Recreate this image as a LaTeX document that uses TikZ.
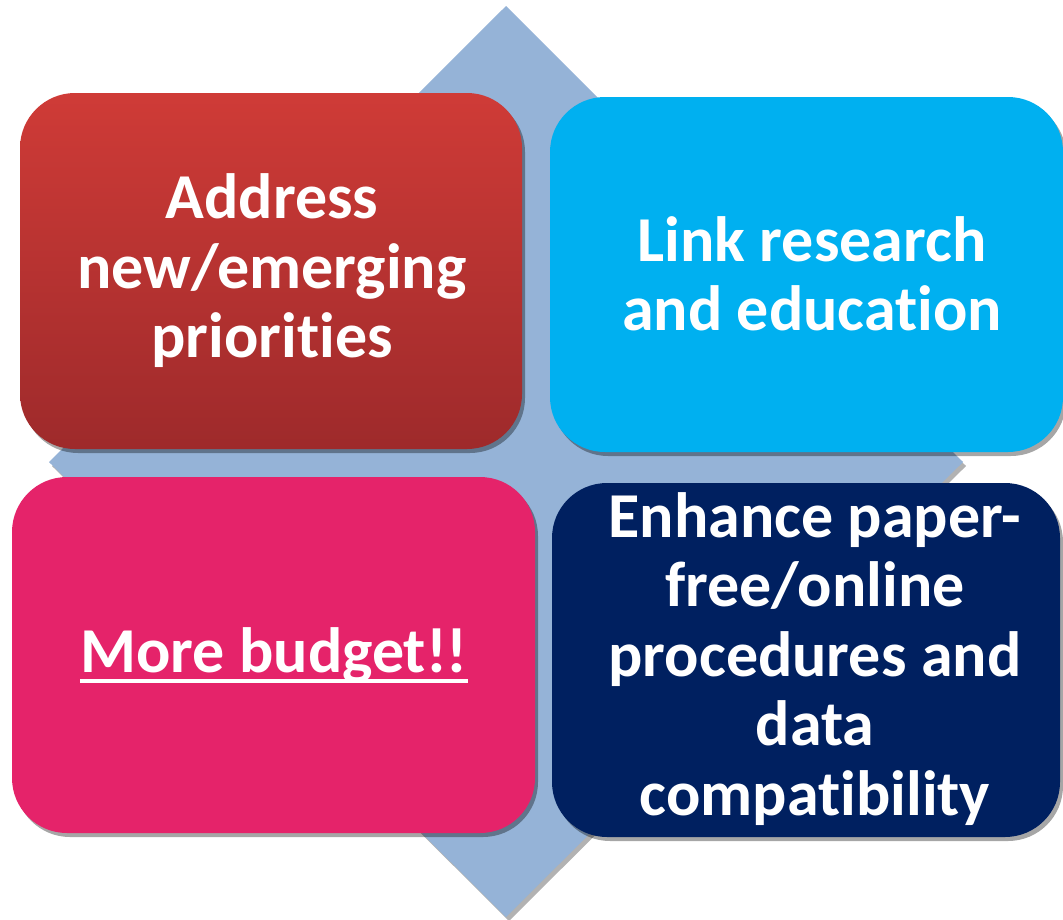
\documentclass[tikz,border=0pt]{standalone}
\usepackage{fontspec}
\setmainfont{Carlito}[Ligatures=NoCommon]
\usetikzlibrary{shadows}
\definecolor{diam}{HTML}{95B3D7}
\definecolor{redtop}{HTML}{CF3B37}
\definecolor{redbot}{HTML}{9E2A2B}
\definecolor{skyb}{HTML}{00B0F0}
\definecolor{pinkb}{HTML}{E5236A}
\definecolor{navyb}{HTML}{002060}
\tikzset{
  card/.style={rounded corners=55pt, drop shadow={shadow xshift=3pt, shadow yshift=-4pt, opacity=0.35, fill=black}},
  cardtext/.style={text=white, font=\fontsize{64}{69.5}\selectfont\bfseries, align=center, inner sep=0pt},
}
\begin{document}
\begin{tikzpicture}[x=1pt,y=-1pt]
\useasboundingbox (0,0) rectangle (1063,919);
% background diamond
\path[fill=diam, drop shadow={shadow xshift=3pt, shadow yshift=-4pt, opacity=0.3, fill=black}]
  (506,6) -- (963,462) -- (506,917) -- (49,462) -- cycle;
% cards
\path[card, top color=redtop, bottom color=redbot] (20,93) rectangle (522,449);
\path[card, fill=skyb] (550,97) rectangle (1063,452);
\path[card, fill=pinkb] (12,477) rectangle (535,833);
\path[card, fill=navyb] (552,483) rectangle (1060,837);
% texts
\node[cardtext] (t1) at (272,271) {Address\\new/emerging\\priorities};
\node[cardtext] (t2) at (812,274) {Link research\\and education};
\node[cardtext] (t3) at (274,655) {More budget!!};
\draw[white, line width=3.5pt] ([yshift=-9pt]t3.base west) -- ([yshift=-9pt]t3.base east);
\node[cardtext] (t4) at (815,659) {Enhance paper-\\free/online\\procedures and\\data\\compatibility};
\end{tikzpicture}
\end{document}
